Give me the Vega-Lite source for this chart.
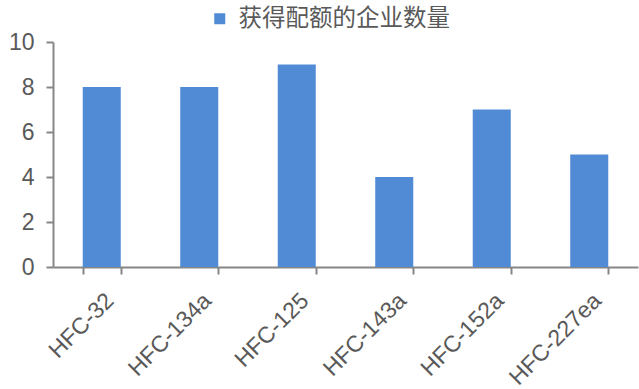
{
  "$schema": "https://vega.github.io/schema/vega-lite/v6.json",
  "width": 585,
  "height": 225,
  "autosize": {"type": "none"},
  "padding": {"left": 53, "top": 42, "right": 1, "bottom": 122},
  "background": "white",
  "config": {
    "view": {"stroke": null},
    "font": "Liberation Sans"
  },
  "data": {
    "values": [
      {"refrigerant": "HFC-32", "companies": 8, "series": "获得配额的企业数量"},
      {"refrigerant": "HFC-134a", "companies": 8, "series": "获得配额的企业数量"},
      {"refrigerant": "HFC-125", "companies": 9, "series": "获得配额的企业数量"},
      {"refrigerant": "HFC-143a", "companies": 4, "series": "获得配额的企业数量"},
      {"refrigerant": "HFC-152a", "companies": 7, "series": "获得配额的企业数量"},
      {"refrigerant": "HFC-227ea", "companies": 5, "series": "获得配额的企业数量"}
    ]
  },
  "mark": {"type": "bar", "color": "#528BD5"},
  "encoding": {
    "x": {
      "field": "refrigerant",
      "type": "nominal",
      "sort": null,
      "title": null,
      "scale": {"paddingInner": 0.61, "paddingOuter": 0.305},
      "axis": {
        "labelAngle": -45,
        "labelFontSize": 23,
        "labelColor": "#595959",
        "labelPadding": 15,
        "domainColor": "#868686",
        "domainWidth": 2,
        "tickColor": "#868686",
        "tickWidth": 2,
        "tickSize": 7,
        "tickBand": "extent",
        "grid": false
      }
    },
    "y": {
      "field": "companies",
      "type": "quantitative",
      "title": null,
      "scale": {"domain": [0, 10], "nice": false},
      "axis": {
        "values": [0, 2, 4, 6, 8, 10],
        "labelFontSize": 23,
        "labelColor": "#595959",
        "labelPadding": 12,
        "domainColor": "#868686",
        "domainWidth": 2,
        "tickColor": "#868686",
        "tickWidth": 2,
        "tickSize": 7,
        "grid": false
      }
    },
    "fill": {
      "field": "series",
      "type": "nominal",
      "scale": {"range": ["#528BD5"]},
      "legend": {
        "title": null,
        "orient": "none",
        "legendX": 155,
        "legendY": -35,
        "symbolType": "square",
        "symbolSize": 121,
        "symbolStrokeWidth": 0,
        "labelFont": "Noto Sans CJK SC",
        "labelFontSize": 23.5,
        "labelLimit": 400,
        "labelColor": "#595959",
        "labelOffset": 7
      }
    }
  }
}
